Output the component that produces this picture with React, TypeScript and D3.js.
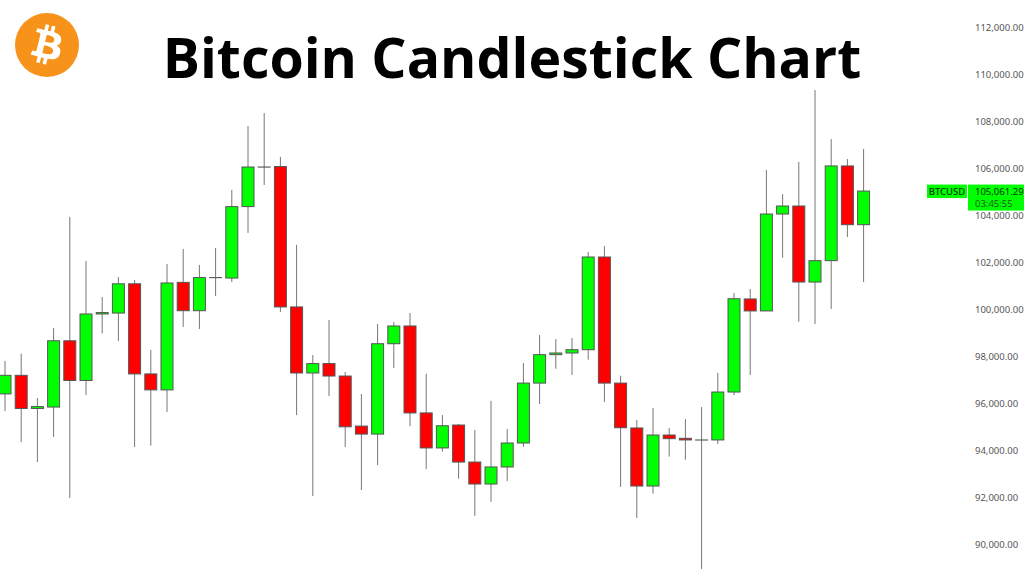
import { useEffect, useRef } from "react"
import * as d3 from "d3"

const title = "Bitcoin Candlestick Chart"
const symbol = "BTCUSD"
const countdown = "03:45:55"

const opens = [
  96430, 97220, 95810, 95870, 98690, 97000, 99830, 99870, 101115, 97280, 96600, 101175, 99970, 101380,
  101360, 104400, 106085, 106105, 100130, 97320, 97720, 97190, 95060, 94720, 98565, 99320, 95620, 94130,
  95105, 93530, 92595, 93320, 94340, 96890, 98100, 98170, 98310, 102255, 96890, 94980, 92510, 94680,
  94540, 94470, 94470, 96510, 100470, 99960, 104085, 104425, 101190, 102100, 106130, 103630,
]
const closes = [
  97220, 95810, 95890, 98690, 97000, 99830, 99890, 101115, 97280, 96600, 101150, 99970, 101380, 101380,
  104400, 106085, 106085, 100130, 97320, 97720, 97190, 95030, 94720, 98565, 99320, 95620, 94130, 95075,
  93530, 92595, 93320, 94340, 96890, 98100, 98170, 98310, 102255, 96890, 94990, 92510, 94680, 94525,
  94470, 94470, 96510, 100480, 99960, 104085, 104425, 101190, 102100, 106130, 103630, 105061.29,
]
const highs = [
  97830, 98140, 96255, 99230, 103960, 102085, 100550, 101400, 101280, 98300, 101960, 102600, 101915, 102640,
  105110, 107830, 108380, 106510, 102770, 98085, 99575, 97360, 96425, 99400, 99490, 99870, 97290, 95530,
  95150, 94890, 96130, 94935, 97745, 98935, 98765, 98810, 102470, 102720, 97205, 95320, 95830, 94980,
  95360, 95870, 97330, 100720, 100890, 105960, 104935, 106300, 109360, 107275, 106425, 106850,
]
const lows = [
  95700, 94380, 93530, 94600, 92000, 96380, 99000, 98680, 94170, 94230, 95660, 99280, 99190, 100600,
  101190, 103280, 105320, 99915, 95530, 92085, 96340, 94170, 92340, 93400, 97530, 95060, 93230, 93970,
  92820, 91245, 91840, 92720, 94170, 96000, 97500, 97235, 97885, 96085, 92470, 91150, 92185, 93760,
  93630, 88980, 94300, 96380, 97235, 99960, 102225, 99500, 99400, 100040, 103105, 101190,
]
const priceTicks = [
  112000, 110000, 108000, 106000, 104000, 102000, 100000, 98000, 96000, 94000, 92000, 90000,
]

const width = 1024
const height = 576

export default function App() {
  const axisRef = useRef<SVGGElement>(null)

  const x = d3
    .scaleBand<number>()
    .domain(d3.range(opens.length))
    .range([-3.1, 871.7])
    .paddingInner(0.26)
    .paddingOuter(0.13)
  const y = d3.scaleLinear().domain([90000, 112000]).range([545, 28])

  useEffect(() => {
    if (!axisRef.current) return
    const axis = d3
      .axisRight(y)
      .tickValues(priceTicks)
      .tickSize(0)
      .tickPadding(0)
      .tickFormat((d) => d3.format(",.2f")(d as number))
    const g = d3.select(axisRef.current)
    g.selectAll("*").remove()
    g.call(axis)
    g.select(".domain").remove()
    g.selectAll("text")
      .attr("font-family", "'Noto Sans', sans-serif")
      .attr("font-size", 9.5)
      .attr("fill", "#555")
  }, [])

  const lastClose = closes[closes.length - 1]
  const tagY = y(lastClose) - 6.5

  return (
    <svg width={width} height={height} style={{ position: "absolute", left: 0, top: 0, background: "#fff" }}>
      {/* logo */}
      <g transform="translate(15,13)">
        <circle cx={32} cy={32} r={32} fill="#f7931a" />
        <path
          fill="#fff"
          d="M46.11 27.441c.636-4.258-2.606-6.547-7.039-8.074l1.438-5.768-3.512-.875-1.4 5.616c-.922-.23-1.87-.447-2.812-.662l1.41-5.653-3.509-.875-1.439 5.766c-.764-.174-1.514-.346-2.242-.527l.004-.018-4.842-1.209-.934 3.75s2.605.597 2.55.634c1.422.355 1.68 1.296 1.636 2.042l-1.638 6.571c.098.025.225.061.365.117l-.37-.092-2.297 9.205c-.174.432-.615 1.08-1.609.834.035.051-2.552-.637-2.552-.637l-1.743 4.02 4.57 1.139c.85.213 1.683.436 2.502.646l-1.453 5.835 3.507.875 1.44-5.772c.957.26 1.887.5 2.797.726L27.504 50.8l3.511.875 1.453-5.823c5.987 1.133 10.49.676 12.383-4.738 1.527-4.36-.075-6.875-3.225-8.516 2.294-.531 4.022-2.04 4.483-5.157zM38.087 38.69c-1.086 4.36-8.426 2.004-10.807 1.412l1.928-7.729c2.38.594 10.011 1.77 8.88 6.317zm1.085-11.312c-.99 3.966-7.1 1.951-9.083 1.457l1.748-7.01c1.983.494 8.367 1.416 7.335 5.553z"
        />
      </g>

      <text
        x={512}
        y={77.5}
        textAnchor="middle"
        fontFamily="'Open Sans', sans-serif"
        fontWeight={700}
        fontSize={55.4}
        fill="#000"
      >
        {title}
      </text>

      {/* candles */}
      {opens.map((open, i) => {
        const close = closes[i]
        const cx = (x(i) as number) + x.bandwidth() / 2
        const top = y(Math.max(open, close))
        const bottom = y(Math.min(open, close))
        return (
          <g key={i}>
            <line x1={cx} x2={cx} y1={y(highs[i])} y2={y(lows[i])} stroke="#777" strokeWidth={1} />
            {/* a rect of zero height draws nothing, so flat candles keep a sliver */}
            <rect
              x={x(i)}
              y={top}
              width={x.bandwidth()}
              height={Math.max(bottom - top, 0.1)}
              fill={close >= open ? "#00ff00" : "#ff0000"}
              stroke="#555"
              strokeWidth={1}
            />
          </g>
        )
      })}

      {/* price axis */}
      <g ref={axisRef} transform="translate(975,-1)" />

      {/* last price tag */}
      <rect x={927} y={tagY} width={40} height={13.5} fill="#00ff00" />
      <rect x={968} y={tagY} width={56} height={26} fill="#00ff00" />
      <text
        x={947}
        y={tagY + 10.5}
        textAnchor="middle"
        fontFamily="'Noto Sans', sans-serif"
        fontSize={9.5}
        fontWeight={500}
        fill="#063306"
      >
        {symbol}
      </text>
      <text x={975} y={tagY + 10} fontFamily="'Noto Sans', sans-serif" fontSize={9.5} fill="#063306">
        {d3.format(",.2f")(lastClose)}
      </text>
      <text x={975} y={tagY + 22} fontFamily="'Noto Sans', sans-serif" fontSize={9.5} fill="#1f5c1f">
        {countdown}
      </text>
    </svg>
  )
}
